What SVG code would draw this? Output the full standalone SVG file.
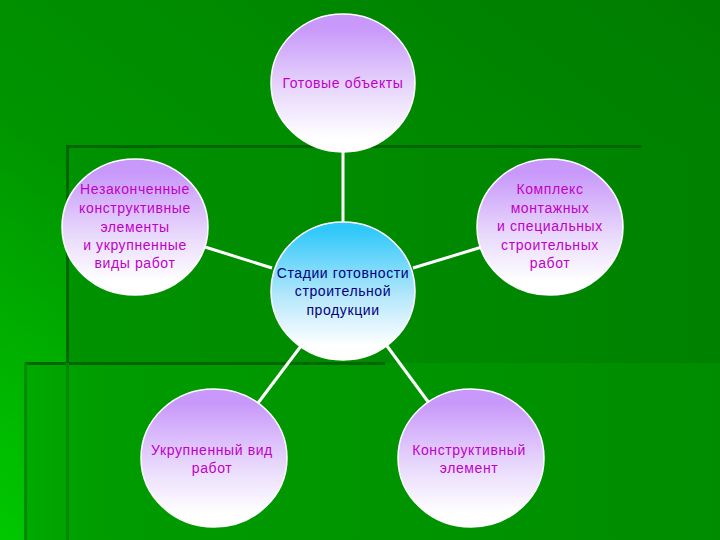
<svg xmlns="http://www.w3.org/2000/svg" width="720" height="540" viewBox="0 0 720 540">
<defs>
<linearGradient id="bg" x1="0" y1="1" x2="1" y2="0">
<stop offset="0" stop-color="#00c800"/>
<stop offset="0.4" stop-color="#009400"/>
<stop offset="1" stop-color="#007c00"/>
</linearGradient>
<linearGradient id="bandLow" x1="0" y1="0" x2="1" y2="0">
<stop offset="0" stop-color="#00aa00"/>
<stop offset="0.1" stop-color="#009c00"/>
<stop offset="1" stop-color="#008c00"/>
</linearGradient>
<linearGradient id="bandMid" x1="0" y1="0" x2="1" y2="0">
<stop offset="0" stop-color="#009200"/>
<stop offset="1" stop-color="#008200"/>
</linearGradient>
<linearGradient id="purple" x1="0" y1="0" x2="0" y2="1">
<stop offset="0.1" stop-color="#c898fa"/>
<stop offset="0.55" stop-color="#e8d8fc"/>
<stop offset="0.9" stop-color="#ffffff"/>
</linearGradient>
<linearGradient id="blue" x1="0" y1="0" x2="0" y2="1">
<stop offset="0.05" stop-color="#2ec8fa"/>
<stop offset="0.55" stop-color="#b8e8fc"/>
<stop offset="0.9" stop-color="#ffffff"/>
</linearGradient>
<style>
.node{stroke:#ffffff;stroke-width:1.5}
.p{fill:url(#purple)}
.b{fill:url(#blue)}
text{font-family:"Liberation Sans",Arial,sans-serif;font-size:14px;text-anchor:middle;letter-spacing:0.6px}
.t{fill:#c000c8}
.tc{fill:#000080}
.conn line{stroke:#ffffff;stroke-width:3}
.shade{fill:#006600}
</style>
</defs>
<g id="background">
<rect x="0" y="0" width="720" height="540" fill="url(#bg)"/>
<rect x="67" y="146" width="653" height="217" fill="url(#bandMid)"/>
<rect x="25" y="363" width="695" height="177" fill="url(#bandLow)"/>
<rect class="shade" x="67" y="145" width="575" height="3"/>
<rect class="shade" x="66" y="145" width="3" height="218"/>
<rect class="shade" x="25" y="362" width="360" height="3"/>
<rect x="24" y="363" width="3" height="177" fill="#008a00"/>
<rect x="66" y="363" width="3" height="177" fill="#008800"/>
</g>
<g id="connectors" class="conn">
<line x1="343" y1="152" x2="343" y2="222"/>
<line x1="205" y1="247" x2="272" y2="268"/>
<line x1="413" y1="268" x2="482" y2="247"/>
<line x1="301" y1="346" x2="258" y2="403"/>
<line x1="387" y1="346" x2="429" y2="403"/>
</g>
<g id="node-top">
<ellipse class="node p" cx="343" cy="83" rx="72" ry="69"/>
<text class="t" x="343" y="88">Готовые объекты</text>
</g>
<g id="node-left">
<ellipse class="node p" cx="135" cy="227" rx="73" ry="68"/>
<text class="t" x="135" y="194">Незаконченные</text>
<text class="t" x="135" y="213">конструктивные</text>
<text class="t" x="135" y="232">элементы</text>
<text class="t" x="135" y="250">и укрупненные</text>
<text class="t" x="135" y="268">виды работ</text>
</g>
<g id="node-right">
<ellipse class="node p" cx="550" cy="227" rx="73" ry="68"/>
<text class="t" x="550" y="194">Комплекс</text>
<text class="t" x="550" y="213">монтажных</text>
<text class="t" x="550" y="231">и специальных</text>
<text class="t" x="550" y="250">строительных</text>
<text class="t" x="550" y="268">работ</text>
</g>
<g id="node-center">
<ellipse class="node b" cx="343" cy="291" rx="72" ry="69"/>
<text class="tc" x="343" y="278">Стадии готовности</text>
<text class="tc" x="343" y="296">строительной</text>
<text class="tc" x="343" y="315">продукции</text>
</g>
<g id="node-bottom-left">
<ellipse class="node p" cx="214" cy="458" rx="73" ry="69"/>
<text class="t" x="212" y="455">Укрупненный вид</text>
<text class="t" x="212" y="473">работ</text>
</g>
<g id="node-bottom-right">
<ellipse class="node p" cx="471" cy="458" rx="73" ry="69"/>
<text class="t" x="469" y="455">Конструктивный</text>
<text class="t" x="469" y="473">элемент</text>
</g>
</svg>
